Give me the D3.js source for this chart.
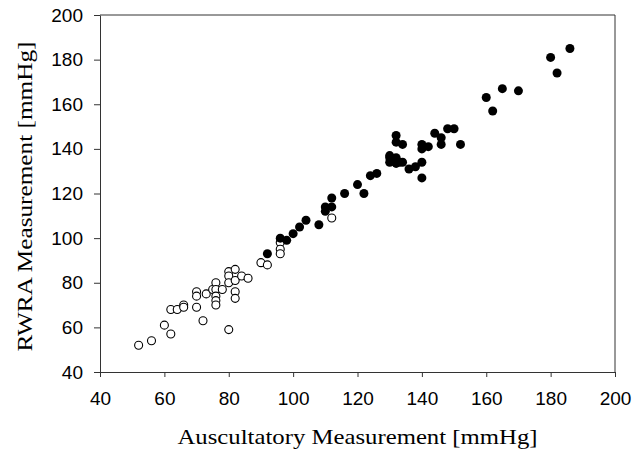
<!DOCTYPE html>
<html>
<head>
<meta charset="utf-8">
<script src="https://cdn.jsdelivr.net/npm/d3@7"></script>
<style>
  body { margin: 0; background: #fff; }
  .tick text { font-family: "Liberation Sans", Arial, sans-serif; font-size: 19px; fill: #000; }
  .axis path, .axis line { stroke: #333; }
  .title { font-family: "Liberation Serif", "Times New Roman", serif; font-size: 21px; fill: #000; }
</style>
</head>
<body>
<script>
// filled circles (higher readings)
var filledPts = [
  [92,93],[96,100],[98,99],[100,102],[102,105],[104,108],[108,106],
  [110,112],[110,114],[112,114],[112,118],[116,120],[120,124],[122,120],
  [124,128],[126,129],[130,137],[130,136],[130,134],[132,136],[132,133.5],
  [133,134],[134,134],[136,131],[138,132],[140,134],[140,127],
  [132,146],[132,143],[134,142],[140,142],[140,140],[142,141],
  [144,147],[146,145],[146,142],[148,149],[150,149],[152,142],
  [160,163],[162,157],[165,167],[170,166],[180,181],[182,174],[186,185]
];
// open circles (lower readings)
var openPts = [
  [52,52],[56,54],[60,61],[62,57],[62,68],[64,68],[66,70],[66,69],
  [70,69],[70,76],[70,74],[72,63],[73,75],[75,77],[76,80],[76,77],
  [76,74],[76,72],[76,70],[78,77],[80,85],[80,83],[80,80],[80,59],
  [82,86],[82,81],[82,76],[82,73],[84,83],[86,82],[90,89],[92,88],
  [96,98],[96,95],[96,93],[112,109]
];
var xTicks = [40, 60, 80, 100, 120, 140, 160, 180, 200];
var yTicks = [40, 60, 80, 100, 120, 140, 160, 180, 200];
var xTitle = "Auscultatory Measurement [mmHg]";
var yTitle = "RWRA Measurement [mmHg]";

var W = 635, H = 459;
var margin = { top: 15, right: 20, bottom: 87, left: 100 };
var width = W - margin.left - margin.right;
var height = H - margin.top - margin.bottom;

var svg = d3.select("body").append("svg")
  .attr("width", W)
  .attr("height", H);

var g = svg.append("g")
  .attr("transform", "translate(" + margin.left + "," + margin.top + ")");

var x = d3.scaleLinear().domain([40, 200]).range([0, width]);
var y = d3.scaleLinear().domain([40, 200]).range([height, 0]);

// frame: top and right edges
g.append("line").attr("x1", 0).attr("x2", width).attr("y1", 0).attr("y2", 0)
  .attr("stroke", "#333");
g.append("line").attr("x1", width).attr("x2", width).attr("y1", 0).attr("y2", height)
  .attr("stroke", "#333");

// x axis
g.append("g")
  .attr("class", "axis")
  .attr("transform", "translate(0," + height + ")")
  .call(d3.axisBottom(x).tickValues(xTicks).tickSize(5).tickSizeOuter(0).tickPadding(15));

// y axis
g.append("g")
  .attr("class", "axis")
  .call(d3.axisLeft(y).tickValues(yTicks).tickSize(6).tickSizeOuter(0).tickPadding(11));

g.selectAll(".axis .domain").attr("stroke", "#333");

// open points
g.append("g").selectAll("circle")
  .data(openPts)
  .enter().append("circle")
  .attr("cx", d => x(d[0]))
  .attr("cy", d => y(d[1]))
  .attr("r", 4)
  .attr("fill", "#fff")
  .attr("stroke", "#000")
  .attr("stroke-width", 1.1);

// filled points
g.append("g").selectAll("circle")
  .data(filledPts)
  .enter().append("circle")
  .attr("cx", d => x(d[0]))
  .attr("cy", d => y(d[1]))
  .attr("r", 4.5)
  .attr("fill", "#000");

// axis titles
svg.append("text")
  .attr("class", "title")
  .attr("x", margin.left + width / 2)
  .attr("y", 444)
  .attr("text-anchor", "middle")
  .attr("textLength", 360)
  .attr("lengthAdjust", "spacingAndGlyphs")
  .text(xTitle);

svg.append("text")
  .attr("class", "title")
  .attr("transform", "translate(32," + (margin.top + height / 2 + 3) + ") rotate(-90)")
  .attr("text-anchor", "middle")
  .attr("textLength", 310)
  .attr("lengthAdjust", "spacingAndGlyphs")
  .text(yTitle);
</script>
</body>
</html>
